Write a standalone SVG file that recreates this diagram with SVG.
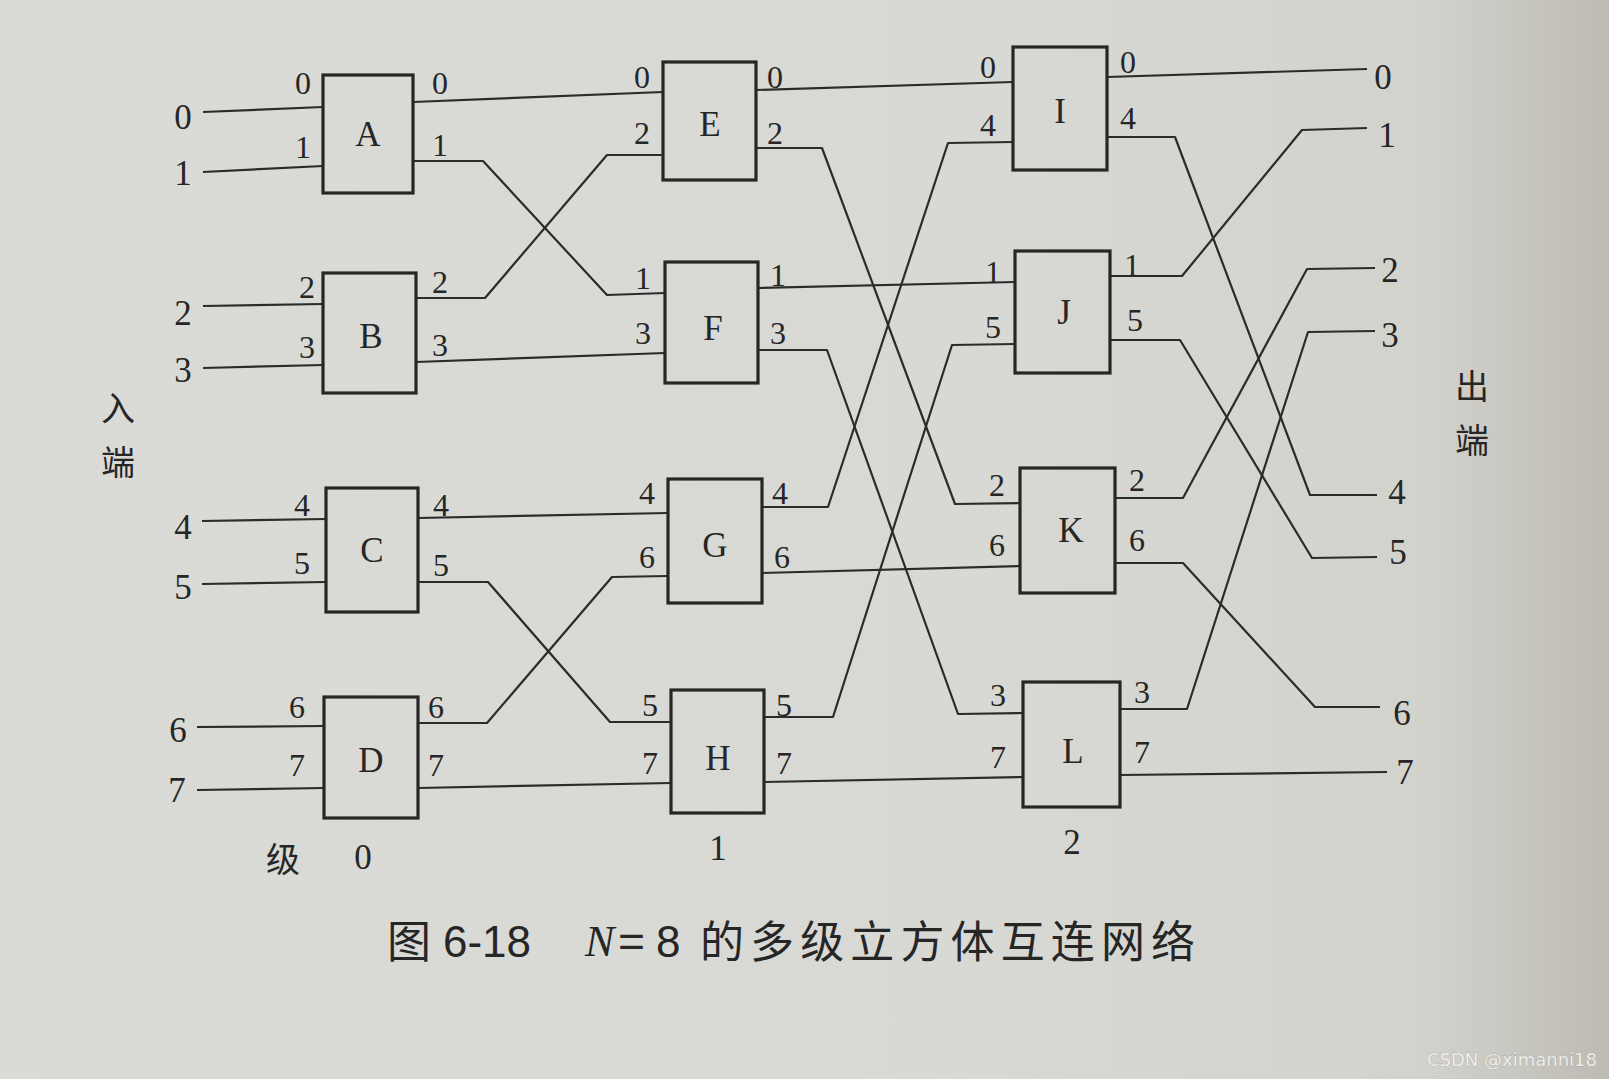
<svg xmlns="http://www.w3.org/2000/svg" width="1609" height="1079" viewBox="0 0 1609 1079">
<defs>
<linearGradient id="bg" x1="0" y1="0" x2="1" y2="0">
<stop offset="0" stop-color="#dadbd6"/>
<stop offset="0.6" stop-color="#d8d9d4"/>
<stop offset="0.88" stop-color="#d3d3ce"/>
<stop offset="1" stop-color="#bdbbb3"/>
</linearGradient>
<style>
.box{fill:none;stroke:#262626;stroke-width:3.2;stroke-linejoin:miter}
.ln{fill:none;stroke:#2b2b2b;stroke-width:2.2;stroke-linejoin:round}
.d{font-family:"Liberation Serif","Times New Roman",serif;font-size:32px;fill:#262626;text-anchor:middle;dominant-baseline:central}
.o{font-family:"Liberation Serif","Times New Roman",serif;font-size:35px;fill:#262626;text-anchor:middle;dominant-baseline:central}
.n{font-family:"Liberation Serif","Times New Roman",serif;font-size:35px;fill:#262626;text-anchor:middle;dominant-baseline:central}
.cj{font-family:"Noto Sans CJK SC","Noto Sans CJK JP",sans-serif;font-size:34px;fill:#262626;text-anchor:middle;dominant-baseline:central}
.cap{font-family:"Noto Sans CJK SC","Noto Sans CJK JP",sans-serif;font-size:44px;fill:#262626;dominant-baseline:central}
.capn{font-family:"Liberation Sans",Arial,sans-serif;font-size:44px;fill:#262626;dominant-baseline:central}
.capi{font-family:"Liberation Serif","Times New Roman",serif;font-style:italic;font-size:44px;fill:#262626;dominant-baseline:central}
.wm{font-family:"DejaVu Sans","Liberation Sans",sans-serif;font-size:18px;fill:#eeeeea;stroke:#8d8a84;stroke-width:0.4;paint-order:stroke}
</style>
</defs>
<rect x="0" y="0" width="1609" height="1079" fill="url(#bg)"/>

<g id="connectors">
<path class="ln" d="M203,112 L323,107"/>
<path class="ln" d="M203,172 L323,166"/>
<path class="ln" d="M203,306 L323,304"/>
<path class="ln" d="M203,368 L323,365"/>
<path class="ln" d="M202,521 L326,519"/>
<path class="ln" d="M202,584 L326,582"/>
<path class="ln" d="M197,727 L324,726"/>
<path class="ln" d="M197,790 L324,788"/>
<path class="ln" d="M413,102 L663,92"/>
<path class="ln" d="M413,161 L483,161 L607,295 L665,293"/>
<path class="ln" d="M416,298 L485,298 L607,155 L663,155"/>
<path class="ln" d="M416,362 L665,353"/>
<path class="ln" d="M418,518 L668,513"/>
<path class="ln" d="M418,582 L488,582 L610,722 L671,722"/>
<path class="ln" d="M418,723 L487,723 L612,577 L668,576"/>
<path class="ln" d="M418,788 L671,783"/>
<path class="ln" d="M756,90 L1013,82"/>
<path class="ln" d="M756,148 L822,148 L955,504 L1020,503"/>
<path class="ln" d="M758,288 L1015,282"/>
<path class="ln" d="M758,350 L827,350 L958,714 L1023,713"/>
<path class="ln" d="M762,507 L828,507 L948,143 L1013,142"/>
<path class="ln" d="M762,573 L1020,566"/>
<path class="ln" d="M764,717 L833,717 L952,345 L1015,344"/>
<path class="ln" d="M764,782 L1023,777"/>
<path class="ln" d="M1107,77 L1367,69"/>
<path class="ln" d="M1107,137 L1175,137 L1310,495 L1377,495"/>
<path class="ln" d="M1110,276 L1182,276 L1302,130 L1367,128"/>
<path class="ln" d="M1110,340 L1180,340 L1312,558 L1377,557"/>
<path class="ln" d="M1115,498 L1183,498 L1307,269 L1375,268"/>
<path class="ln" d="M1115,563 L1183,563 L1315,707 L1380,707"/>
<path class="ln" d="M1120,709 L1187,709 L1308,332 L1375,331"/>
<path class="ln" d="M1120,775 L1387,772"/>
</g>

<g id="A"><rect class="box" x="323" y="75" width="90" height="118"/><text class="n" x="368" y="134">A</text>
<text class="d" x="303" y="83">0</text><text class="d" x="303" y="147">1</text><text class="d" x="440" y="83">0</text><text class="d" x="440" y="145">1</text></g>
<g id="B"><rect class="box" x="323" y="273" width="93" height="120"/><text class="n" x="371" y="336">B</text>
<text class="d" x="307" y="287">2</text><text class="d" x="307" y="347">3</text><text class="d" x="440" y="282">2</text><text class="d" x="440" y="345">3</text></g>
<g id="C"><rect class="box" x="326" y="488" width="92" height="124"/><text class="n" x="372" y="550">C</text>
<text class="d" x="302" y="505">4</text><text class="d" x="302" y="563">5</text><text class="d" x="441" y="505">4</text><text class="d" x="441" y="565">5</text></g>
<g id="D"><rect class="box" x="324" y="697" width="94" height="121"/><text class="n" x="371" y="760">D</text>
<text class="d" x="297" y="707">6</text><text class="d" x="297" y="765">7</text><text class="d" x="436" y="707">6</text><text class="d" x="436" y="765">7</text></g>

<g id="E"><rect class="box" x="663" y="62" width="93" height="118"/><text class="n" x="710" y="124">E</text>
<text class="d" x="642" y="77">0</text><text class="d" x="642" y="133">2</text><text class="d" x="775" y="77">0</text><text class="d" x="775" y="133">2</text></g>
<g id="F"><rect class="box" x="665" y="262" width="93" height="121"/><text class="n" x="713" y="328">F</text>
<text class="d" x="643" y="278">1</text><text class="d" x="643" y="333">3</text><text class="d" x="778" y="275">1</text><text class="d" x="778" y="333">3</text></g>
<g id="G"><rect class="box" x="668" y="479" width="94" height="124"/><text class="n" x="715" y="545">G</text>
<text class="d" x="647" y="493">4</text><text class="d" x="647" y="557">6</text><text class="d" x="780" y="493">4</text><text class="d" x="782" y="557">6</text></g>
<g id="H"><rect class="box" x="671" y="690" width="93" height="123"/><text class="n" x="718" y="758">H</text>
<text class="d" x="650" y="705">5</text><text class="d" x="650" y="763">7</text><text class="d" x="784" y="705">5</text><text class="d" x="784" y="763">7</text></g>

<g id="I"><rect class="box" x="1013" y="47" width="94" height="123"/><text class="n" x="1060" y="111">I</text>
<text class="d" x="988" y="67">0</text><text class="d" x="988" y="125">4</text><text class="d" x="1128" y="62">0</text><text class="d" x="1128" y="118">4</text></g>
<g id="J"><rect class="box" x="1015" y="251" width="95" height="122"/><text class="n" x="1064" y="312">J</text>
<text class="d" x="993" y="272">1</text><text class="d" x="993" y="327">5</text><text class="d" x="1132" y="265">1</text><text class="d" x="1135" y="320">5</text></g>
<g id="K"><rect class="box" x="1020" y="468" width="95" height="125"/><text class="n" x="1071" y="530">K</text>
<text class="d" x="997" y="485">2</text><text class="d" x="997" y="545">6</text><text class="d" x="1137" y="480">2</text><text class="d" x="1137" y="540">6</text></g>
<g id="L"><rect class="box" x="1023" y="682" width="97" height="125"/><text class="n" x="1073" y="751">L</text>
<text class="d" x="998" y="695">3</text><text class="d" x="998" y="757">7</text><text class="d" x="1142" y="692">3</text><text class="d" x="1142" y="752">7</text></g>

<g id="inputs">
<text class="o" x="183" y="117">0</text><text class="o" x="183" y="173">1</text>
<text class="o" x="183" y="313">2</text><text class="o" x="183" y="370">3</text>
<text class="o" x="183" y="527">4</text><text class="o" x="183" y="587">5</text>
<text class="o" x="178" y="730">6</text><text class="o" x="177" y="790">7</text>
<text class="cj" x="118" y="406">入</text><text class="cj" x="118" y="460">端</text>
</g>
<g id="outputs">
<text class="o" x="1383" y="77">0</text><text class="o" x="1387" y="135">1</text>
<text class="o" x="1390" y="270">2</text><text class="o" x="1390" y="335">3</text>
<text class="o" x="1397" y="492">4</text><text class="o" x="1398" y="552">5</text>
<text class="o" x="1402" y="713">6</text><text class="o" x="1405" y="772">7</text>
<text class="cj" x="1472" y="384">出</text><text class="cj" x="1472" y="438">端</text>
</g>
<g id="stages">
<text class="cj" x="283" y="857">级</text>
<text class="o" x="363" y="857">0</text>
<text class="o" x="718" y="848">1</text>
<text class="o" x="1072" y="842">2</text>
</g>
<g id="caption">
<text class="cap" x="387" y="939">图</text>
<text class="capn" x="443" y="941" textLength="88" lengthAdjust="spacingAndGlyphs">6-18</text>
<text class="capi" x="585" y="941">N</text>
<text class="capn" x="618" y="941" textLength="27" lengthAdjust="spacingAndGlyphs">=</text>
<text class="capn" x="656" y="941">8</text>
<text class="cap" x="700" y="939" textLength="495" lengthAdjust="spacing">的多级立方体互连网络</text>
</g>
<text class="wm" x="1427" y="1066">CSDN @ximanni18</text>
</svg>
